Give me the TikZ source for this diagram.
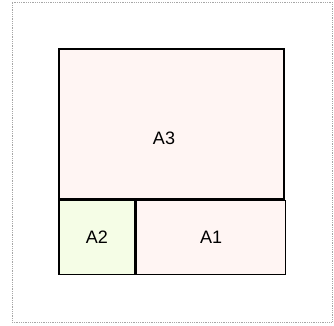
\documentclass[tikz,border=0pt]{standalone}
\usepackage{fontspec}
\setmainfont{Liberation Sans}
\usepackage{xcolor}
\usetikzlibrary{positioning}

\definecolor{areapink}{HTML}{FFF5F3}
\definecolor{areagreen}{HTML}{F5FDE6}

\begin{document}
\begin{tikzpicture}[x=1pt, y=-1pt,
    frame/.style={rectangle, draw=gray!70, densely dotted, line width=0.8pt, minimum width=320pt, minimum height=320pt, inner sep=0pt},
    area/.style={rectangle, draw=black, line width=1.6pt, fill=areapink, inner sep=0pt, font=\fontsize{18}{20}\selectfont},
    greenarea/.style={area, fill=areagreen},
    areatext/.style={inner sep=0pt, font=\fontsize{18}{20}\selectfont}
]
    \useasboundingbox (0,0) rectangle (334,325);

    % dotted page frame
    \node[frame] (outer) at (172,162) {};

    % areas
    \node[area, minimum width=225pt, minimum height=150pt] (a3) at (171.5,124) {};
    \node[areatext] (a3text) at ([shift={(-7.5,14)}]a3.center) {A3};
    \node[greenarea, minimum width=76pt, minimum height=74pt, below right=0pt and 0pt of a3.south west] (a2) {A2};
    \node[area, minimum width=149pt, minimum height=74pt, right=0pt of a2] (a1) {A1};
\end{tikzpicture}
\end{document}
